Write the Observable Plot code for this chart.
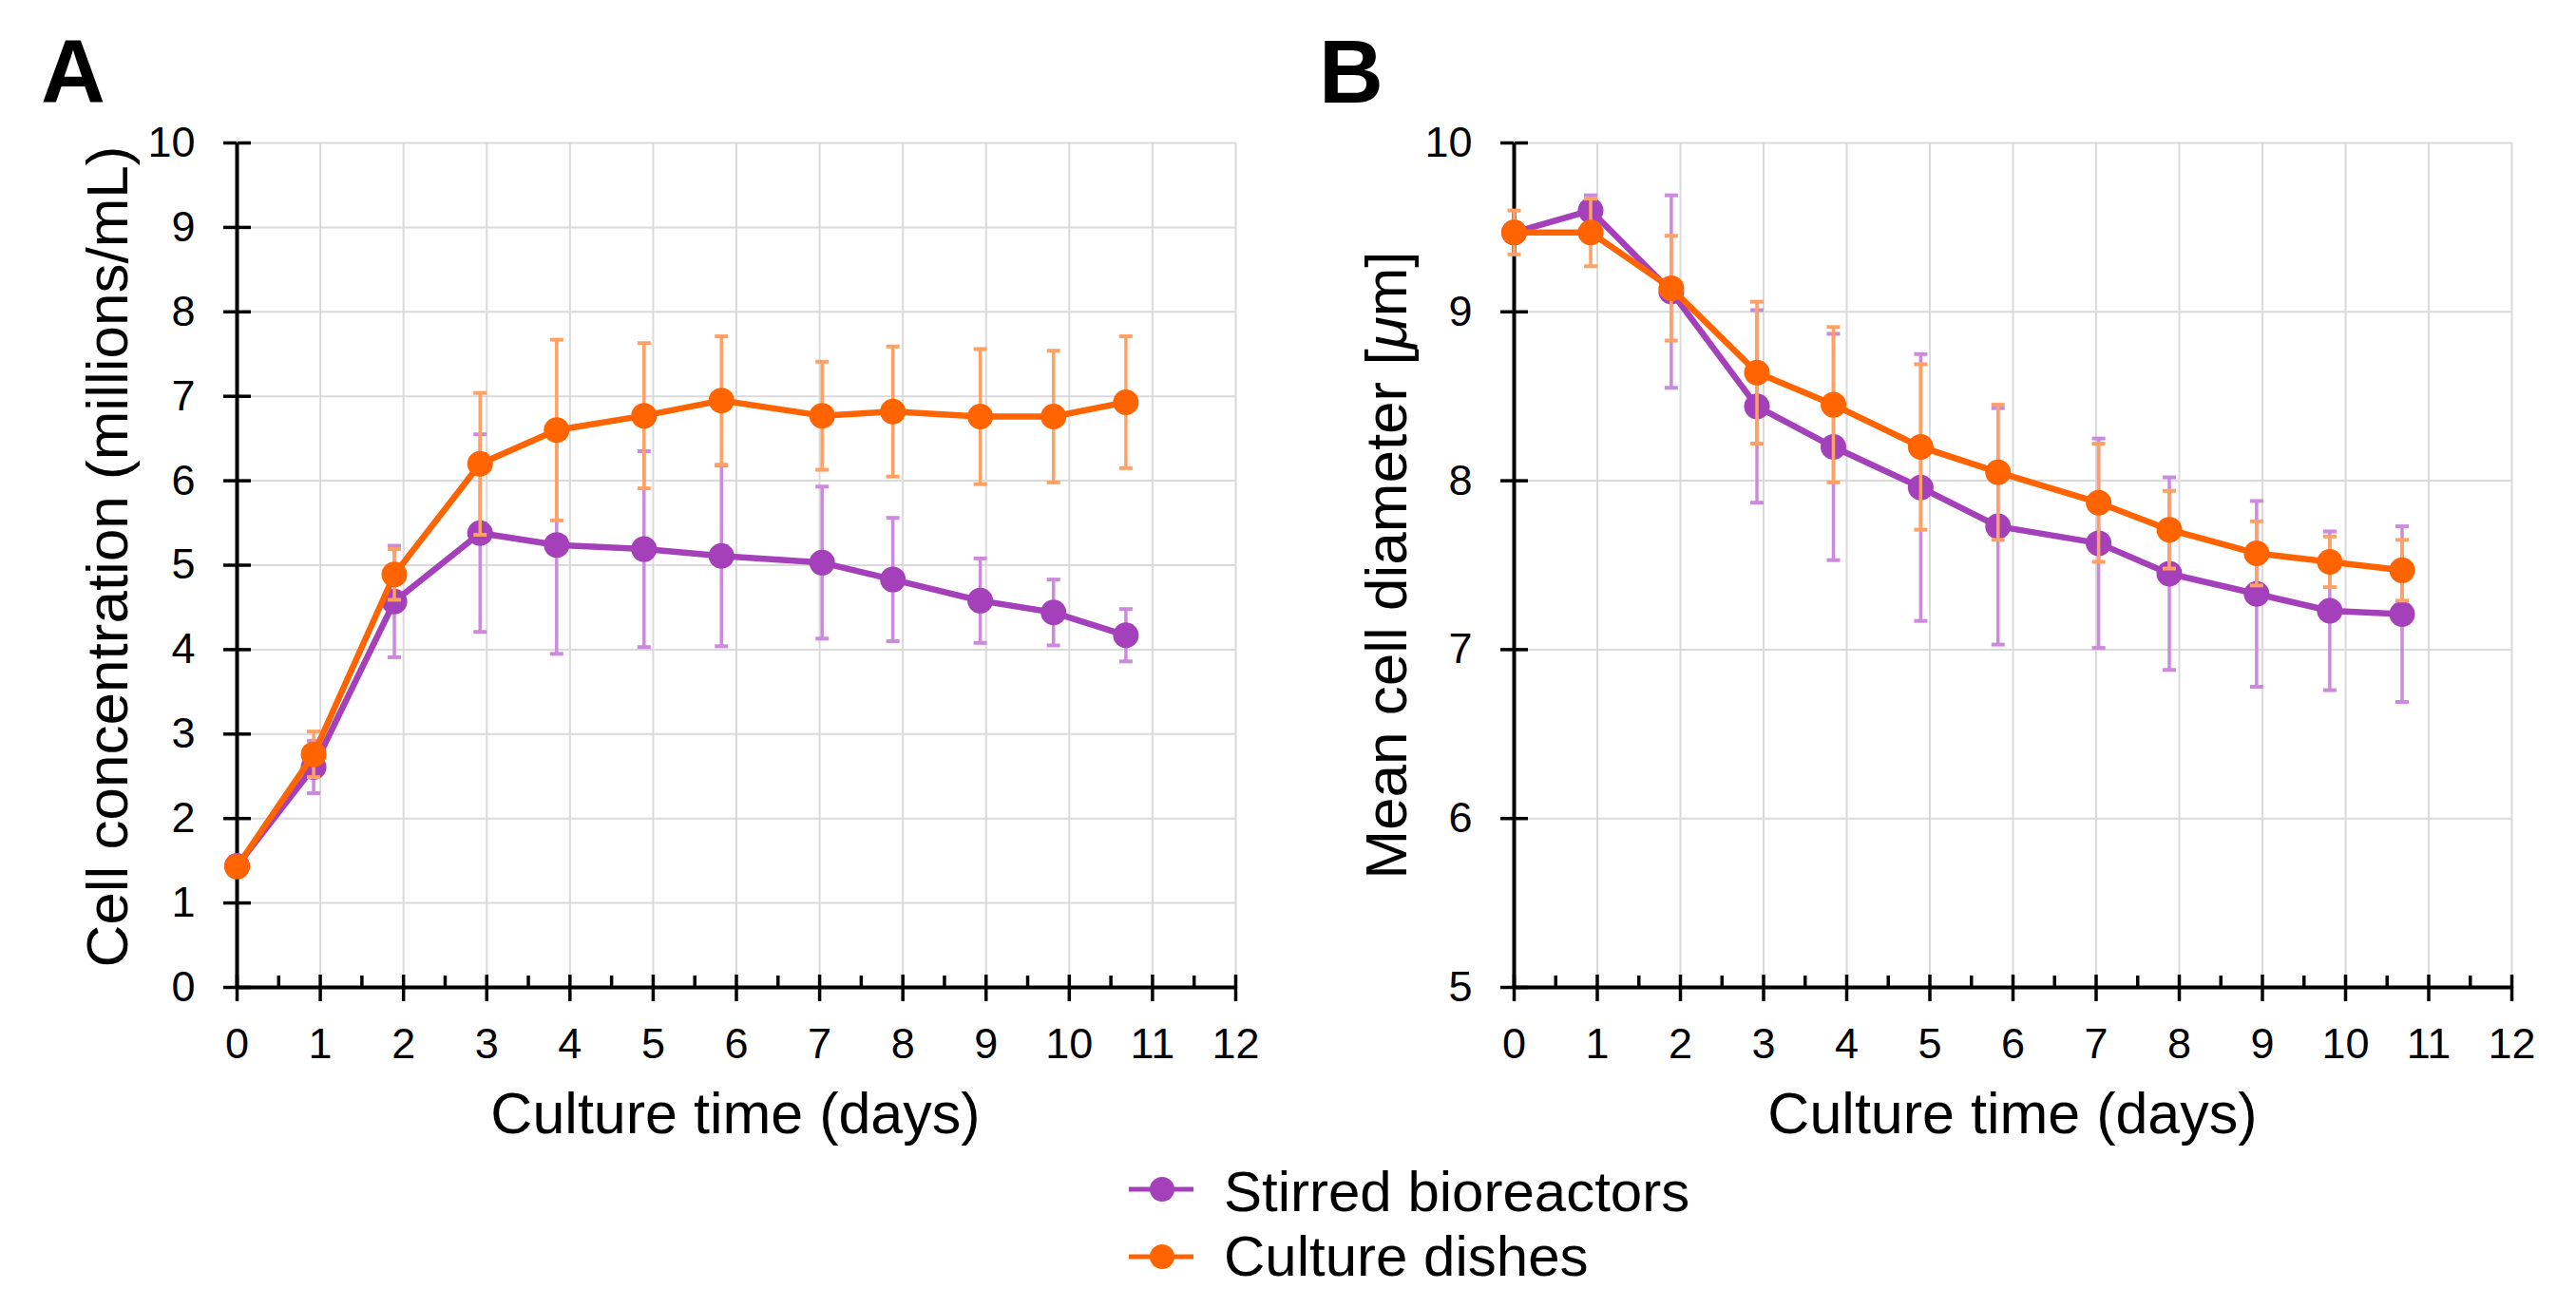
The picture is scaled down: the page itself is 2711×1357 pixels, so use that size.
<!DOCTYPE html>
<html><head><meta charset="utf-8">
<script src="https://cdn.jsdelivr.net/npm/d3@7"></script>
<script src="https://cdn.jsdelivr.net/npm/@observablehq/plot@0.6"></script>
<style>
html,body{margin:0;padding:0;background:#fff;}
#root{position:relative;width:2711px;height:1357px;overflow:hidden;font-family:"Liberation Sans",Arial,Helvetica,sans-serif;}
.panel{position:absolute;top:0;}
#overlay{position:absolute;left:0;top:0;}
</style></head><body><div id="root"></div>
<script>
// ---- data ----
const days = [0, 0.92, 1.89, 2.92, 3.84, 4.89, 5.82, 7.03, 7.88, 8.93, 9.81, 10.68];
const seriesNames = ["Stirred bioreactors", "Culture dishes"];
const seriesColors = ["#A440B9", "#FF6400"];
const errorColors = ["#CB8ADB", "#FFA164"];

const concStirred   = [1.44, 2.61, 4.57, 5.38, 5.24, 5.19, 5.11, 5.03, 4.83, 4.58, 4.44, 4.17];
const concStirredSD = [0.05, 0.31, 0.66, 1.17, 1.29, 1.16, 1.07, 0.90, 0.73, 0.50, 0.39, 0.31];
const concDishes    = [1.43, 2.76, 4.89, 6.20, 6.60, 6.77, 6.95, 6.77, 6.82, 6.76, 6.76, 6.93];
const concDishesSD  = [0.05, 0.27, 0.30, 0.84, 1.07, 0.86, 0.76, 0.64, 0.77, 0.80, 0.78, 0.78];

const diamStirred   = [9.47, 9.60, 9.12, 8.44, 8.20, 7.96, 7.73, 7.63, 7.45, 7.33, 7.23, 7.21];
const diamStirredSD = [0.05, 0.09, 0.57, 0.57, 0.67, 0.79, 0.70, 0.62, 0.57, 0.55, 0.47, 0.52];
const diamDishes    = [9.47, 9.47, 9.14, 8.64, 8.45, 8.20, 8.05, 7.87, 7.71, 7.57, 7.52, 7.47];
const diamDishesSD  = [0.13, 0.20, 0.31, 0.42, 0.46, 0.49, 0.40, 0.35, 0.23, 0.19, 0.15, 0.18];

const xTicks = d3.range(0, 13);
const xMinorTicks = d3.range(0.5, 12, 1);
const concTicks = d3.range(0, 11);
const diamTicks = d3.range(5, 11);

const xTitle = "Culture time (days)";
const concTitle = "Cell concentration (millions/mL)";

// ---- helpers ----
function rows(values, sds, name) {
  return days.map((d, i) => ({day: d, v: values[i], sd: sds[i], series: name}));
}
const capSymbol = {draw(ctx, size) { const r = Math.sqrt(size / Math.PI); ctx.moveTo(-r, 0); ctx.lineTo(r, 0); }};
const intFormat = d => String(d);

const H = 1230, PLOT_TOP = 150, PLOT_BOTTOM = 1039;

function panel({data, yDomain, yTicks, width, marginLeft, marginRight}) {
  const seriesMarks = data.flatMap((rs, k) => [
    Plot.ruleX(rs, {x: "day", y1: d => d.v - d.sd, y2: d => d.v + d.sd, stroke: errorColors[k], strokeWidth: 3.5}),
    Plot.dot(rs, {x: "day", y: d => d.v + d.sd, symbol: capSymbol, r: 7, fill: "none", stroke: errorColors[k], strokeWidth: 4}),
    Plot.dot(rs, {x: "day", y: d => d.v - d.sd, symbol: capSymbol, r: 7, fill: "none", stroke: errorColors[k], strokeWidth: 4}),
    Plot.line(rs, {x: "day", y: "v", stroke: seriesColors[k], strokeWidth: 6.5}),
    Plot.dot(rs, {x: "day", y: "v", r: 13.5, fill: seriesColors[k], stroke: "none"})
  ]);
  const gridStyle = {stroke: "#dadada", strokeOpacity: 1, strokeWidth: 2};
  return Plot.plot({
    width, height: H, marginLeft, marginRight, marginTop: PLOT_TOP, marginBottom: H - PLOT_BOTTOM,
    x: {domain: [0, 12]},
    y: {domain: yDomain},
    style: {fontFamily: '"Liberation Sans", Arial, sans-serif', fontSize: "45px", color: "#000", background: "transparent", overflow: "visible"},
    marks: [
      Plot.gridX(xTicks.slice(1), gridStyle),
      Plot.gridY(yTicks.slice(1), gridStyle),
      Plot.ruleX([0], {stroke: "#000", strokeWidth: 4}),
      Plot.ruleY([yDomain[0]], {stroke: "#000", strokeWidth: 4}),
      Plot.axisX(xTicks, {tickSize: 15, tickPadding: 28, strokeWidth: 3.5, tickFormat: intFormat, label: null}),
      Plot.axisX(xTicks, {anchor: "top", frameAnchor: "bottom", tickSize: 14, strokeWidth: 3.5, fill: "none", label: null}),
      Plot.axisX(xMinorTicks, {anchor: "top", frameAnchor: "bottom", tickSize: 13, strokeWidth: 3.5, fill: "none", label: null}),
      Plot.axisY(yTicks, {tickSize: 14, tickPadding: 30, strokeWidth: 3.5, tickFormat: intFormat, label: null}),
      Plot.axisY(yTicks, {anchor: "right", frameAnchor: "left", tickSize: 14, strokeWidth: 3.5, fill: "none", label: null}),
      ...seriesMarks
    ]
  });
}

const root = document.getElementById("root");

const chartA = panel({
  data: [rows(concStirred, concStirredSD, seriesNames[0]), rows(concDishes, concDishesSD, seriesNames[1])],
  yDomain: [0, 10], yTicks: concTicks, width: 1340, marginLeft: 249, marginRight: 40
});
chartA.classList.add("panel"); chartA.style.left = "0px";
root.appendChild(chartA);

const chartB = panel({
  data: [rows(diamStirred, diamStirredSD, seriesNames[0]), rows(diamDishes, diamDishesSD, seriesNames[1])],
  yDomain: [5, 10], yTicks: diamTicks, width: 1371, marginLeft: 253, marginRight: 68
});
chartB.classList.add("panel"); chartB.style.left = "1340px";
root.appendChild(chartB);

// ---- titles, panel letters, legend ----
const ns = "http://www.w3.org/2000/svg";
const ov = document.createElementNS(ns, "svg");
ov.setAttribute("id", "overlay");
ov.setAttribute("width", 2711); ov.setAttribute("height", 1357);
ov.setAttribute("font-family", '"Liberation Sans", Arial, sans-serif');
root.appendChild(ov);
function txt(str, attrs) {
  const t = document.createElementNS(ns, "text");
  for (const k in attrs) t.setAttribute(k, attrs[k]);
  t.textContent = str; ov.appendChild(t); return t;
}
txt("A", {x: 43, y: 108, "font-size": 94, "font-weight": "bold"});
txt("B", {x: 1388, y: 108, "font-size": 94, "font-weight": "bold"});
txt(xTitle, {x: 774, y: 1193, "font-size": 61, "text-anchor": "middle"});
txt(xTitle, {x: 2118, y: 1193, "font-size": 61, "text-anchor": "middle"});
txt(concTitle, {x: 0, y: 0, "font-size": 62, "text-anchor": "middle", transform: "translate(134,586) rotate(-90)"});
const tB = txt("", {x: 0, y: 0, "font-size": 62, "text-anchor": "middle", transform: "translate(1480,595) rotate(-90)"});
const s1 = document.createElementNS(ns, "tspan"); s1.textContent = "Mean cell diameter ["; tB.appendChild(s1);
const s2 = document.createElementNS(ns, "tspan"); s2.textContent = "μ"; s2.setAttribute("font-style", "italic"); tB.appendChild(s2);
const s3 = document.createElementNS(ns, "tspan"); s3.textContent = "m]"; tB.appendChild(s3);

const legendRows = [{dot: 1252, base: 1275}, {dot: 1323, base: 1343}];
seriesNames.forEach((name, k) => {
  const y = legendRows[k].dot;
  const l = document.createElementNS(ns, "line");
  l.setAttribute("x1", 1188); l.setAttribute("x2", 1256); l.setAttribute("y1", y); l.setAttribute("y2", y);
  l.setAttribute("stroke", seriesColors[k]); l.setAttribute("stroke-width", 5); ov.appendChild(l);
  const c = document.createElementNS(ns, "circle");
  c.setAttribute("cx", 1223); c.setAttribute("cy", y); c.setAttribute("r", 13); c.setAttribute("fill", seriesColors[k]);
  ov.appendChild(c);
  txt(name, {x: 1288, y: legendRows[k].base, "font-size": 60});
});
</script>
</body></html>
